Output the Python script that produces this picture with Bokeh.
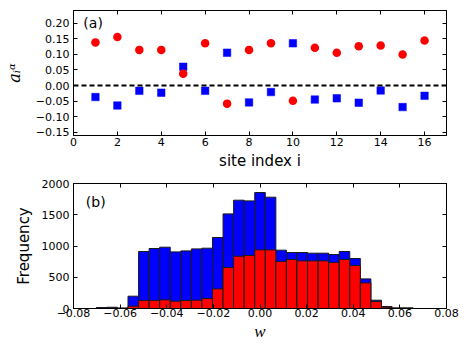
import numpy as np
from bokeh.plotting import figure
from bokeh.layouts import column
from bokeh.models import (Range1d, FixedTicker, LinearAxis, Span, Label,
                          CustomJSTickFormatter)
from bokeh.embed import file_html
from bokeh.resources import INLINE

# ---------------- data: panel (a) ----------------
sites = list(range(1, 17))
a_red = [0.138, 0.155, 0.114, 0.114, 0.038, 0.135, -0.058, 0.114,
         0.135, -0.049, 0.121, 0.105, 0.126, 0.128, 0.099, 0.144]
a_blue = [-0.037, -0.064, -0.017, -0.023, 0.060, -0.017, 0.105, -0.054,
          -0.021, 0.135, -0.045, -0.041, -0.055, -0.016, -0.069, -0.033]
a_xticks = [0, 2, 4, 6, 8, 10, 12, 14, 16]
a_yticks = [-0.15, -0.10, -0.05, 0.0, 0.05, 0.10, 0.15, 0.20]

# ---------------- data: panel (b) ----------------
bin_start = -0.07021
bin_width = 0.00453
freq_blue = [15, 20, 8, 197, 912, 960, 981, 906, 922, 954, 965, 1136, 1514,
             1733, 1722, 1856, 1781, 933, 896, 896, 885, 885, 864, 912, 800,
             474, 133, 32, 10, 10]
freq_red = [5, 8, 3, 37, 128, 128, 138, 117, 128, 133, 160, 314, 656, 837,
            848, 938, 938, 752, 784, 762, 762, 762, 736, 784, 688, 410, 112,
            21, 5, 5]
b_xticks = [-0.08, -0.06, -0.04, -0.02, 0.0, 0.02, 0.04, 0.06, 0.08]
b_yticks = [0, 500, 1000, 1500, 2000]

edges = bin_start + bin_width * np.arange(len(freq_blue) + 1)
left, right = edges[:-1], edges[1:]

FONT = "DejaVu Sans"
TICK_SIZE = "11px"
LABEL_SIZE = "15px"

fmt2 = CustomJSTickFormatter(code="""
    return (tick < -1e-12 ? "\\u2212" : "") + Math.abs(tick).toFixed(2);
""")


def style_axis(ax, ticks, labels=True, formatter=None, standoff=2):
    ax.ticker = FixedTicker(ticks=ticks)
    ax.major_tick_in = 4
    ax.major_tick_out = 0
    ax.minor_tick_line_color = None
    ax.axis_line_color = "black"
    ax.major_tick_line_color = "black"
    ax.major_label_text_font = FONT
    ax.major_label_text_color = "black"
    ax.axis_label_text_font = FONT
    ax.axis_label_text_font_size = LABEL_SIZE
    ax.axis_label_text_font_style = "normal"
    ax.axis_label_text_color = "black"
    if formatter is not None:
        ax.formatter = formatter
    if labels:
        ax.major_label_text_font_size = TICK_SIZE
        ax.major_label_standoff = standoff
    else:
        ax.major_label_text_font_size = "0px"
        ax.major_label_text_color = None
        ax.major_label_standoff = 0
        ax.axis_label = None


def add_mirror_axes(p, xticks, yticks):
    top = LinearAxis()
    rgt = LinearAxis()
    style_axis(top, xticks, labels=False)
    style_axis(rgt, yticks, labels=False)
    p.add_layout(top, "above")
    p.add_layout(rgt, "right")


W = 461

# ---------------- panel (a) ----------------
p1 = figure(width=W, height=176, output_backend="svg", toolbar_location=None,
            x_range=Range1d(0, 17), y_range=Range1d(-0.16, 0.24),
            min_border_left=73, min_border_right=15, min_border_top=10,
            min_border_bottom=41)
p1.grid.visible = False
p1.outline_line_color = "black"
p1.background_fill_color = "white"
p1.border_fill_color = "white"

style_axis(p1.xaxis[0], a_xticks, standoff=2)
p1.xaxis[0].axis_label = "site index i"
p1.xaxis[0].axis_label_standoff = 3
style_axis(p1.yaxis[0], a_yticks, formatter=fmt2, standoff=4)
p1.yaxis[0].axis_label = "a\u1d62\u1d45"
p1.yaxis[0].axis_label_text_font = "DejaVu Serif"
p1.yaxis[0].axis_label_text_font_style = "italic"
p1.yaxis[0].axis_label_text_font_size = "16px"
p1.yaxis[0].axis_label_standoff = 9
add_mirror_axes(p1, a_xticks, a_yticks)

p1.add_layout(Span(location=0, dimension="width", line_color="black",
                   line_width=2, line_dash="5 3"))
p1.scatter(sites, a_blue, marker="square", size=7.5, fill_color="#0000ff",
           line_color="#0000ff", line_width=0.5)
p1.scatter(sites, a_red, marker="circle", size=8.5, fill_color="#ff0000",
           line_color=None)

p1.add_layout(Label(x=0.45, y=0.2, text="(a)", text_font=FONT,
                    text_font_size="14px", text_baseline="middle",
                    text_align="left", text_color="black"))

# ---------------- panel (b) ----------------
p2 = figure(width=W, height=168, output_backend="svg", toolbar_location=None,
            x_range=Range1d(-0.08, 0.08), y_range=Range1d(0, 2000),
            min_border_left=73, min_border_right=15, min_border_top=7,
            min_border_bottom=36)
p2.grid.visible = False
p2.outline_line_color = "black"
p2.background_fill_color = "white"
p2.border_fill_color = "white"

style_axis(p2.xaxis[0], b_xticks, formatter=fmt2, standoff=0)
p2.xaxis[0].axis_label = "w"
p2.xaxis[0].axis_label_text_font = "Liberation Serif"
p2.xaxis[0].axis_label_text_font_style = "italic"
p2.xaxis[0].axis_label_text_font_size = "17px"
p2.xaxis[0].axis_label_standoff = 2
style_axis(p2.yaxis[0], b_yticks, standoff=4)
p2.yaxis[0].axis_label = "Frequency"
p2.yaxis[0].axis_label_standoff = 6
add_mirror_axes(p2, b_xticks, b_yticks)

p2.quad(left=left, right=right, bottom=0, top=freq_blue,
        fill_color="#0000ff", line_color="#1a1a1a", line_width=1)
p2.quad(left=left, right=right, bottom=0, top=freq_red,
        fill_color="#ff0000", line_color="#1a1a1a", line_width=1)

p2.add_layout(Label(x=-0.0747, y=1700, text="(b)", text_font=FONT,
                    text_font_size="14px", text_baseline="middle",
                    text_align="left", text_color="black"))

layout = column(p1, p2)
open("out.html", "w").write(file_html(layout, INLINE))
